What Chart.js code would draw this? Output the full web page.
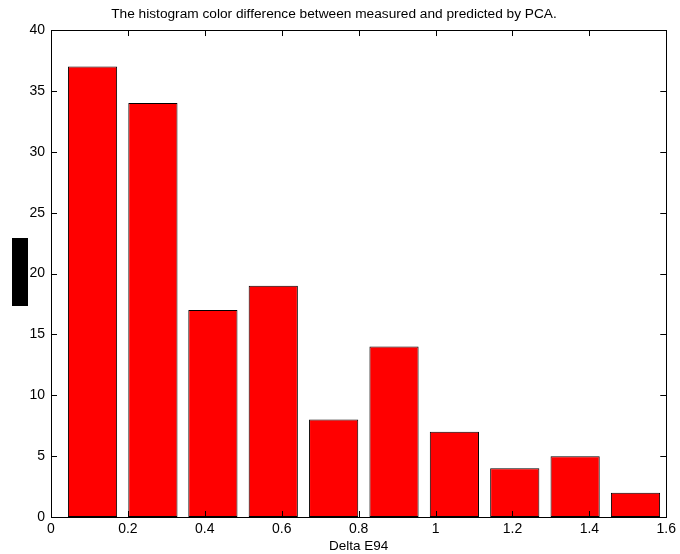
<!DOCTYPE html>
<html>
<head>
<meta charset="utf-8">
<script src="https://cdn.jsdelivr.net/npm/chart.js@4/dist/chart.umd.min.js"></script>
<style>
  html, body { margin: 0; padding: 0; background: #fff; }
  #wrap { width: 680px; height: 554px; position: relative; }
</style>
</head>
<body>
<div id="wrap"><canvas id="hist"></canvas></div>
<script>
// bin centres (Delta E94) and counts
const binCenters = [0.108, 0.265, 0.421, 0.578, 0.735, 0.892, 1.049, 1.206, 1.363, 1.520];
const counts = [37, 34, 17, 19, 8, 14, 7, 4, 5, 2];
const xTicks = [0, 0.2, 0.4, 0.6, 0.8, 1, 1.2, 1.4, 1.6];
const yTicks = [0, 5, 10, 15, 20, 25, 30, 35, 40];

const FONT = 'Liberation Sans, Arial, sans-serif';

// matlab-style box with inward tick marks, plus the blacked-out ylabel
const matlabAxes = {
  id: 'matlabAxes',
  afterDatasetsDraw(chart) {
    const { ctx, chartArea: a, scales } = chart;
    const len = 6;
    ctx.save();
    ctx.strokeStyle = '#000';
    ctx.lineWidth = 1;
    ctx.beginPath();
    xTicks.forEach((v) => {
      const px = Math.round(scales.x.getPixelForValue(v)) + 0.5;
      ctx.moveTo(px, a.bottom); ctx.lineTo(px, a.bottom - len);
      ctx.moveTo(px, a.top); ctx.lineTo(px, a.top + len);
    });
    yTicks.forEach((v) => {
      const py = Math.round(scales.y.getPixelForValue(v)) + 0.5;
      ctx.moveTo(a.left, py); ctx.lineTo(a.left + len, py);
      ctx.moveTo(a.right, py); ctx.lineTo(a.right - len, py);
    });
    ctx.stroke();
    ctx.strokeRect(Math.round(a.left) + 0.5, Math.round(a.top) + 0.5,
      Math.round(a.right - a.left), Math.round(a.bottom - a.top));
    // ylabel came out as a solid black block
    ctx.fillStyle = '#000';
    ctx.fillRect(12, 238, 16, 68);
    ctx.restore();
  },
};

new Chart(document.getElementById('hist'), {
  type: 'bar',
  data: {
    datasets: [{
      data: binCenters.map((x, i) => ({ x, y: counts[i] })),
      backgroundColor: '#FF0000',
      borderColor: '#000',
      borderWidth: 1,
      borderSkipped: false,
      categoryPercentage: 1,
      barPercentage: 0.82,
    }],
  },
  options: {
    responsive: true,
    maintainAspectRatio: false,
    animation: false,
    layout: { padding: { right: 12 } },
    plugins: {
      legend: { display: false },
      tooltip: { enabled: false },
      title: {
        display: true,
        text: 'The histogram color difference between measured and predicted by PCA.',
        color: '#000',
        font: { family: FONT, size: 13.7, weight: 'normal' },
        padding: { top: 5.8, bottom: 7.8 },
      },
    },
    scales: {
      x: {
        type: 'linear',
        offset: false,
        min: 0, max: 1.6,
        afterBuildTicks: (s) => { s.ticks = xTicks.map((v) => ({ value: v })); },
        afterFit: (s) => { s.height = 37; },
        grid: { display: false, drawTicks: false, offset: false },
        border: { display: false },
        ticks: { color: '#000', padding: 4, font: { family: FONT, size: 14 }, maxRotation: 0,
          callback: (v) => String(v) },
        title: { display: true, text: 'Delta E94', color: '#000', padding: 0,
          font: { family: FONT, size: 13.5 } },
      },
      y: {
        min: 0, max: 40,
        afterBuildTicks: (s) => { s.ticks = yTicks.map((v) => ({ value: v })); },
        afterFit: (s) => { s.width = 51; },
        grid: { display: false, drawTicks: false },
        border: { display: false },
        ticks: { color: '#000', padding: 6, font: { family: FONT, size: 14 } },
      },
    },
  },
  plugins: [matlabAxes],
});
</script>
</body>
</html>
